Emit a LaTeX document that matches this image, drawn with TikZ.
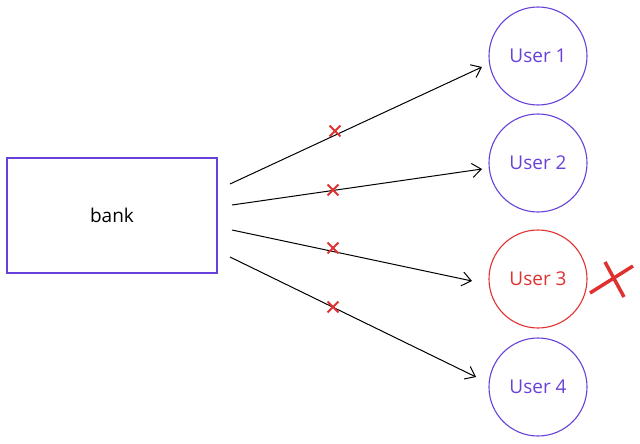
\documentclass[tikz,border=0pt]{standalone}
\usepackage{fontspec}
\setmainfont{Open Sans}
\usetikzlibrary{arrows.meta,shapes.misc}
\definecolor{vio}{HTML}{6741D9}
\definecolor{rd}{HTML}{E03131}
\begin{document}
\begin{tikzpicture}[x=1pt,y=-1pt,
  user/.style={circle,draw=vio,text=vio,line width=1.1pt,minimum size=98pt,inner sep=0pt,font=\fontsize{19}{22}\selectfont},
  arr/.style={draw=black,line width=1pt,-{Straight Barb[length=9pt,width=14pt]}},
  xmark/.style={cross out,draw=rd,line width=1.8pt,minimum size=9pt,inner sep=0pt}]
\useasboundingbox (0,0) rectangle (640,444);
\node[draw=vio,line width=1.3pt,minimum width=210pt,minimum height=115pt,inner sep=0pt,font=\fontsize{19}{22}\selectfont] (bank) at (112,215.5) {bank};
\node[user] (u1) at (538,56) {User 1};
\node[user] (u2) at (538,163) {User 2};
\node[user,draw=rd,text=rd] (u3) at (538,279) {User 3};
\node[user] (u4) at (538,387) {User 4};
\coordinate (s1) at (230,184);
\coordinate (s2) at (232,205);
\coordinate (s3) at (232,230);
\coordinate (s4) at (230,257);
\coordinate (e1) at (482,67);
\coordinate (e2) at (482,169);
\coordinate (e3) at (472,281);
\coordinate (e4) at (476,377);
\draw[arr] (s1) -- (e1);
\draw[arr] (s2) -- (e2);
\draw[arr] (s3) -- (e3);
\draw[arr] (s4) -- (e4);
\node[xmark] (x1) at (335,131) {};
\node[xmark] (x2) at (333,190) {};
\node[xmark] (x3) at (333,248) {};
\node[xmark] (x4) at (333,307) {};
\draw[rd,line width=3.5pt] (590,293) -- (633,266);
\draw[rd,line width=3.5pt] (605,262) -- (624,297);
\end{tikzpicture}
\end{document}
